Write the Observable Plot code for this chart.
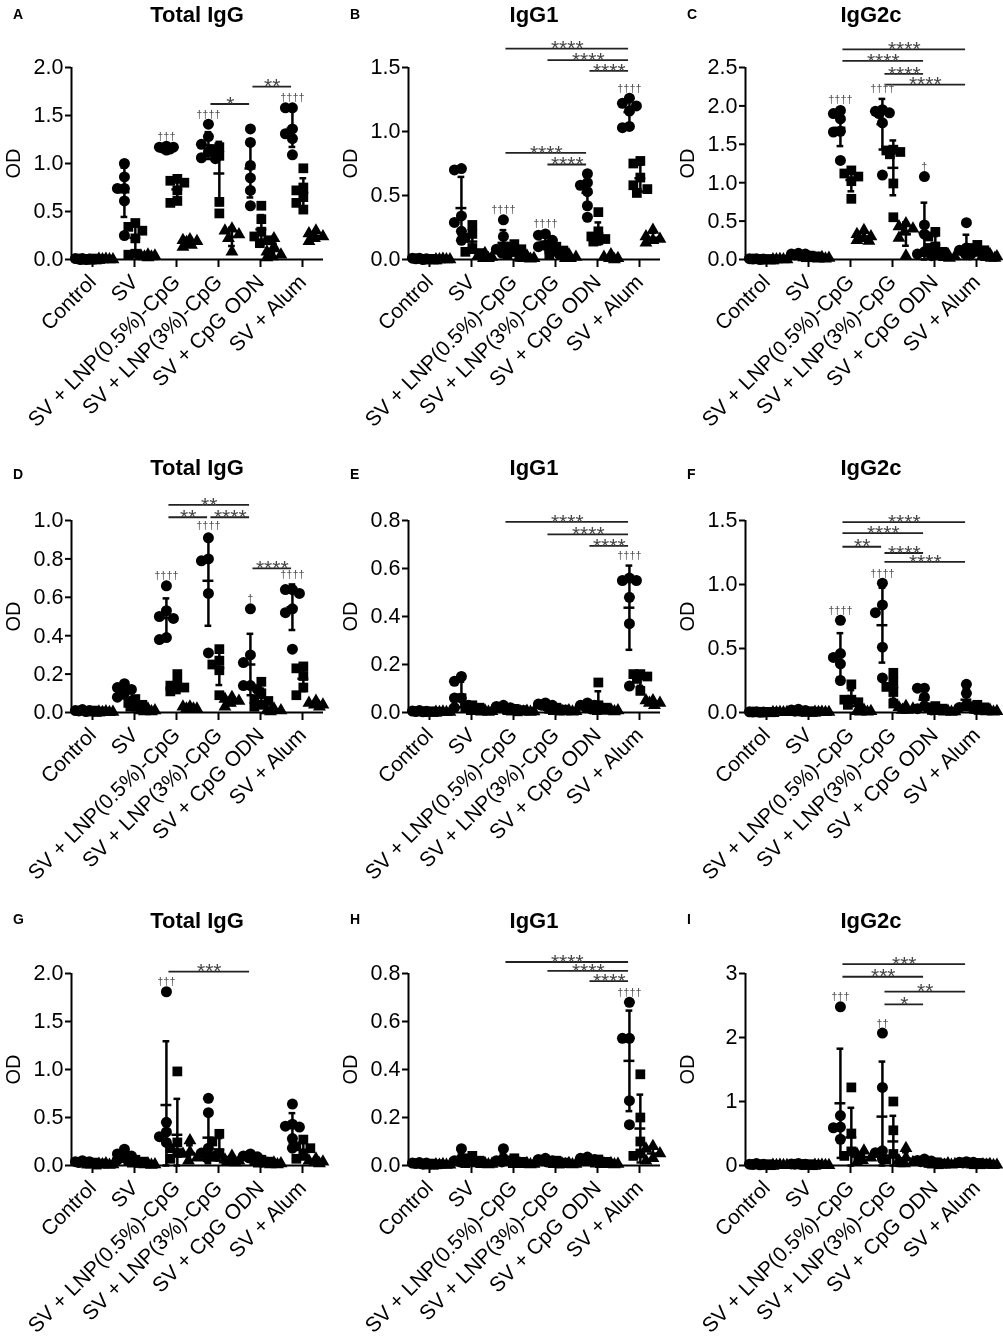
<!DOCTYPE html>
<html><head><meta charset="utf-8">
<script src="https://cdn.jsdelivr.net/npm/d3@7"></script>
<script src="https://cdn.jsdelivr.net/npm/@observablehq/plot@0.6"></script>
<style>
body{margin:0;background:#fff;font-family:"Liberation Sans",Arial,sans-serif;}
#root{position:relative;width:1003px;height:1339px;overflow:hidden;background:#fff;}
.panel{position:absolute;width:336px;height:445px;}
.panel svg{position:absolute;left:0;top:0;overflow:visible;will-change:transform;}
.letter{position:absolute;font-weight:bold;font-size:14px;line-height:1;transform:translate(0,-50%);}
.title{position:absolute;font-weight:bold;font-size:22px;line-height:1;transform:translate(-50%,-50%);white-space:nowrap;}
</style></head><body><div id="root"></div>
<script>
const groups = ["Control","SV","SV + LNP(0.5%)-CpG","SV + LNP(3%)-CpG","SV + CpG ODN","SV + Alum"];
const panelIds = ["A","B","C","D","E","F","G","H","I"];
const panelTitles = ["Total IgG","IgG1","IgG2c","Total IgG","IgG1","IgG2c","Total IgG","IgG1","IgG2c"];
const A_ticks=[0,0.5,1,1.5,2], B_ticks=[0,0.5,1,1.5], C_ticks=[0,0.5,1,1.5,2,2.5];
const D_ticks=[0,0.2,0.4,0.6,0.8,1.0], E_ticks=[0,0.2,0.4,0.6,0.8], F_ticks=[0,0.5,1,1.5];
const G_ticks=[0,0.5,1,1.5,2], H_ticks=[0,0.2,0.4,0.6,0.8], I_ticks=[0,1,2,3];
const tickFormats=[".1f",".1f",".1f",".1f",".1f",".1f",".1f",".1f","d"];

// ---- Panel A: Total IgG ----
const A_circle=[[0.01,0.01,0.005,0.005,0,0],[1.0,0.86,0.74,0.74,0.61,0.25],[1.18,1.17,1.17,1.16,1.15,1.14],[1.41,1.28,1.20,1.12,1.06,1.05],[1.36,1.22,0.98,0.85,0.72,0.56],[1.58,1.58,1.36,1.31,1.26,1.09]];
const A_square=[[0.01,0.005,0.005,0,0,0],[0.38,0.34,0.30,0.22,0.06,0.05],[0.84,0.82,0.80,0.72,0.61,0.59],[1.17,1.15,1.08,0.60,0.48],[0.56,0.42,0.29,0.24,0.20,0.17],[0.95,0.75,0.72,0.65,0.59,0.52]];
const A_triangle=[[0.005,0.005,0,0,0],[0.05,0.04,0.04,0.03,0.03,0.02],[0.21,0.20,0.19,0.18,0.15,0.13],[0.32,0.30,0.26,0.22,0.08],[0.22,0.13,0.08,0.05,0.03,0.02],[0.30,0.27,0.24,0.22,0.19]];
const A_brackets=[[3,4,1.62,"*"],[4,5,1.80,"**"]];
const A_daggers=[[2,"†††"],[3,"††††"],[5,"††††"]];

// ---- Panel B: IgG1 ----
const B_circle=[[0.01,0.01,0.005,0.005,0],[0.71,0.70,0.34,0.29,0.22,0.15],[0.31,0.18,0.10,0.08,0.06,0.05],[0.20,0.19,0.15,0.11,0.10,0.09],[0.67,0.60,0.58,0.53,0.42,0.33],[1.26,1.22,1.20,1.16,1.04,1.03]];
const B_square=[[0.005,0.005,0,0,0],[0.27,0.20,0.17,0.09,0.06,0.05],[0.12,0.10,0.08,0.06,0.04,0.02],[0.10,0.08,0.07,0.06,0.05,0.04],[0.37,0.22,0.18,0.16,0.15,0.14],[0.77,0.75,0.64,0.58,0.55,0.52]];
const B_triangle=[[0.005,0,0,0,0],[0.05,0.03,0.02,0.01,0.01],[0.03,0.02,0.01,0.01,0.005],[0.04,0.03,0.02,0.01,0.01],[0.04,0.02,0.01,0.01,0],[0.23,0.18,0.16,0.15,0.13]];
const B_brackets=[[2,5,1.648,"****"],[3,5,1.557,"****"],[4,5,1.474,"****"],[2,4,0.833,"****"],[3,4,0.742,"****"]];
const B_daggers=[[2,"††††"],[3,"††††"],[5,"††††"]];

// ---- Panel C: IgG2c ----
const C_circle=[[0.01,0.01,0.005,0.005,0],[0.08,0.07,0.07,0.06,0.05],[1.94,1.90,1.83,1.67,1.66,1.29],[1.95,1.93,1.91,1.90,1.78,1.10],[1.08,0.45,0.33,0.10,0.07,0.05],[0.48,0.15,0.12,0.10,0.08,0.06]];
const C_square=[[0.005,0.005,0,0,0],[0.05,0.04,0.04,0.03,0.03],[1.16,1.12,1.08,1.02,0.79],[1.43,1.42,1.40,1.37,0.99,0.55],[0.36,0.30,0.17,0.15,0.10,0.08],[0.19,0.15,0.12,0.10,0.08,0.06]];
const C_triangle=[[0.005,0,0,0,0],[0.03,0.02,0.02,0.01,0.01],[0.38,0.33,0.30,0.28,0.25,0.24],[0.47,0.43,0.40,0.36,0.28,0.05],[0.07,0.05,0.04,0.03,0.02],[0.07,0.05,0.04,0.03,0.02,0.02]];
const C_brackets=[[2,5,2.736,"****"],[2,4,2.586,"****"],[3,4,2.418,"****"],[3,5,2.277,"****"]];
const C_daggers=[[2,"††††"],[3,"††††"],[4,"†"]];

// ---- Panel D: Total IgG ----
const D_circle=[[0.015,0.01,0.01,0.008,0.005],[0.15,0.13,0.12,0.10,0.08,0.06],[0.66,0.53,0.50,0.49,0.39,0.38],[0.91,0.80,0.79,0.62,0.31],[0.54,0.30,0.26,0.14,0.14,0.12],[0.64,0.64,0.62,0.54,0.52,0.33]];
const D_square=[[0.01,0.008,0.005,0.005,0.003],[0.07,0.05,0.04,0.03,0.03,0.02],[0.20,0.15,0.14,0.13,0.12,0.11],[0.33,0.27,0.25,0.22,0.09],[0.16,0.10,0.07,0.06,0.04,0.03],[0.24,0.23,0.19,0.13,0.09]];
const D_triangle=[[0.005,0.004,0.003,0.002,0.001],[0.02,0.01,0.01,0.005,0.005],[0.03,0.03,0.02,0.02,0.02],[0.08,0.07,0.06,0.05,0.03],[0.02,0.01,0.01,0.005],[0.06,0.05,0.04,0.04,0.03]];
const D_brackets=[[2,4,1.081,"**"],[2,3,1.017,"**"],[3,4,1.017,"****"],[4,5,0.751,"****"]];
const D_daggers=[[2,"††††"],[3,"††††"],[4,"†"],[5,"††††"]];

// ---- Panel E: IgG1 ----
const E_circle=[[0.008,0.006,0.005,0.004,0.003],[0.15,0.13,0.06,0.06,0.03,0.02],[0.03,0.025,0.02,0.02,0.015],[0.04,0.035,0.03,0.03,0.025],[0.04,0.03,0.03,0.02,0.015],[0.56,0.55,0.55,0.48,0.37,0.11]];
const E_square=[[0.005,0.004,0.003,0.002,0.002],[0.03,0.02,0.02,0.01,0.01],[0.015,0.01,0.01,0.008,0.005],[0.02,0.015,0.012,0.01,0.008],[0.125,0.03,0.02,0.02,0.01],[0.16,0.16,0.15,0.14,0.09]];
const E_triangle=[[0.003,0.002,0.002,0.001,0.001],[0.008,0.005,0.005,0.003,0.002],[0.006,0.005,0.004,0.003,0.002],[0.008,0.006,0.005,0.004,0.003],[0.012,0.01,0.008,0.006,0.004],[0.05,0.05,0.04,0.04,0.03]];
const E_brackets=[[2,5,0.794,"****"],[3,5,0.742,"****"],[4,5,0.694,"****"]];
const E_daggers=[[5,"††††"]];

// ---- Panel F: IgG2c ----
const F_circle=[[0.006,0.005,0.004,0.003,0.002],[0.025,0.02,0.015,0.01,0.01],[0.72,0.46,0.43,0.38,0.25],[1.01,0.84,0.78,0.51,0.27],[0.19,0.19,0.12,0.05,0.03,0.02],[0.22,0.15,0.06,0.04,0.03]];
const F_square=[[0.004,0.003,0.003,0.002,0.002],[0.01,0.008,0.006,0.005,0.004],[0.22,0.10,0.10,0.08,0.06],[0.31,0.24,0.20,0.16,0.07],[0.05,0.04,0.03,0.02,0.02],[0.06,0.05,0.04,0.03,0.02]];
const F_triangle=[[0.003,0.002,0.002,0.001,0.001],[0.005,0.004,0.003,0.002,0.002],[0.02,0.01,0.01,0.005,0.005],[0.05,0.04,0.03,0.02,0.02],[0.012,0.01,0.008,0.006,0.004],[0.02,0.015,0.01,0.008,0.005]];
const F_brackets=[[2,5,1.487,"****"],[2,4,1.402,"****"],[2,3,1.295,"**"],[3,4,1.246,"****"],[3,5,1.176,"****"]];
const F_daggers=[[2,"††††"],[3,"††††"]];

// ---- Panel G: Total IgG ----
const G_circle=[[0.05,0.04,0.04,0.03,0.03],[0.17,0.12,0.10,0.08,0.06],[1.81,0.45,0.35,0.30,0.24],[0.70,0.55,0.18,0.13,0.10,0.08],[0.12,0.10,0.09,0.08,0.07],[0.64,0.43,0.41,0.40,0.28,0.18]];
const G_square=[[0.03,0.02,0.02,0.02,0.01],[0.06,0.05,0.04,0.03,0.03],[0.98,0.24,0.18,0.13,0.07],[0.33,0.25,0.12,0.09,0.05],[0.06,0.05,0.04,0.03,0.03],[0.27,0.20,0.18,0.10,0.07]];
const G_triangle=[[0.02,0.015,0.01,0.01,0.005],[0.02,0.015,0.01,0.01,0.005],[0.26,0.14,0.12,0.08,0.05],[0.10,0.06,0.05,0.04,0.03],[0.03,0.02,0.02,0.01,0.01],[0.07,0.05,0.04,0.03,0.02]];
const G_brackets=[[2,4,2.02,"***"]];
const G_daggers=[[2,"†††"]];

// ---- Panel H: IgG1 ----
const H_circle=[[0.012,0.01,0.01,0.008,0.006],[0.07,0.03,0.02,0.02,0.015],[0.07,0.03,0.02,0.02,0.015],[0.03,0.025,0.02,0.02,0.015],[0.035,0.03,0.025,0.02,0.02],[0.68,0.53,0.53,0.27,0.17]];
const H_square=[[0.008,0.006,0.005,0.004,0.003],[0.04,0.03,0.02,0.015,0.01],[0.03,0.02,0.015,0.01,0.01],[0.02,0.015,0.012,0.01,0.008],[0.025,0.02,0.015,0.012,0.01],[0.38,0.20,0.10,0.05,0.04]];
const H_triangle=[[0.005,0.004,0.003,0.002,0.002],[0.01,0.008,0.006,0.005,0.004],[0.01,0.008,0.006,0.005,0.004],[0.01,0.008,0.006,0.005,0.004],[0.01,0.008,0.006,0.005,0.004],[0.08,0.07,0.05,0.03,0.02]];
const H_brackets=[[2,5,0.848,"****"],[3,5,0.811,"****"],[4,5,0.768,"****"]];
const H_daggers=[[5,"††††"]];

// ---- Panel I: IgG2c ----
const I_circle=[[0.03,0.02,0.02,0.015,0.01],[0.03,0.025,0.02,0.02,0.015],[2.48,0.78,0.60,0.59,0.41],[2.07,1.22,0.23,0.20,0.10],[0.10,0.08,0.07,0.06,0.05],[0.06,0.05,0.05,0.04,0.04]];
const I_square=[[0.02,0.015,0.01,0.01,0.005],[0.02,0.015,0.01,0.01,0.005],[1.22,0.50,0.22,0.15,0.10],[1.00,0.55,0.18,0.10,0.05],[0.05,0.04,0.03,0.03,0.02],[0.04,0.03,0.03,0.02,0.02]];
const I_triangle=[[0.01,0.01,0.005,0.005,0.003],[0.01,0.01,0.005,0.005,0.003],[0.23,0.18,0.12,0.08,0.05],[0.27,0.12,0.08,0.05,0.03],[0.03,0.02,0.02,0.01,0.01],[0.02,0.015,0.01,0.01,0.005]];
const I_brackets=[[2,5,3.145,"***"],[2,4,2.949,"***"],[3,5,2.716,"**"],[3,4,2.519,"*"]];
const I_daggers=[[2,"†††"],[3,"††"]];

const panelData = {
  A:{ticks:A_ticks,circle:A_circle,square:A_square,triangle:A_triangle,brackets:A_brackets,daggers:A_daggers},
  B:{ticks:B_ticks,circle:B_circle,square:B_square,triangle:B_triangle,brackets:B_brackets,daggers:B_daggers},
  C:{ticks:C_ticks,circle:C_circle,square:C_square,triangle:C_triangle,brackets:C_brackets,daggers:C_daggers},
  D:{ticks:D_ticks,circle:D_circle,square:D_square,triangle:D_triangle,brackets:D_brackets,daggers:D_daggers},
  E:{ticks:E_ticks,circle:E_circle,square:E_square,triangle:E_triangle,brackets:E_brackets,daggers:E_daggers},
  F:{ticks:F_ticks,circle:F_circle,square:F_square,triangle:F_triangle,brackets:F_brackets,daggers:F_daggers},
  G:{ticks:G_ticks,circle:G_circle,square:G_square,triangle:G_triangle,brackets:G_brackets,daggers:G_daggers},
  H:{ticks:H_ticks,circle:H_circle,square:H_square,triangle:H_triangle,brackets:H_brackets,daggers:H_daggers},
  I:{ticks:I_ticks,circle:I_circle,square:I_square,triangle:I_triangle,brackets:I_brackets,daggers:I_daggers}
};

const W=332, H=440, ML=71, MR=9, MT=67, MB=181;
const subOffset={circle:-0.24, square:0.02, triangle:0.32};
const symbolR={circle:5.5, square:5.5, triangle:4.8};
const pxPerX=(W-ML-MR)/6;
const letterDy=[14,21,13];
const root=document.getElementById("root");
const FONT='"Liberation Sans", Arial, sans-serif';

panelIds.forEach((id,k)=>{
  const p=panelData[id];
  const col=k%3,row=Math.floor(k/3);
  const left=col*337, top=row*453;
  const topTick=p.ticks[p.ticks.length-1];
  const pxPerY=(H-MT-MB)/topTick;
  const pts=[], stats=[];
  ["circle","square","triangle"].forEach(s=>{
    p[s].forEach((vals,g)=>{
      const cx=g+subOffset[s];
      const placed=[];
      const order=vals.map((v,i)=>i).sort((a,b)=>vals[b]-vals[a]);
      order.forEach(i=>{
        const v=vals[i], y=v*pxPerY;
        const cands=[0,-7,7,-3.5,3.5,-5,5,-1.5,1.5];
        let best=0,bestD=-1;
        for(const c of cands){
          let d=Infinity;
          for(const q of placed) d=Math.min(d,Math.hypot(c-q.dx,y-q.y));
          if(d>=8){best=c;bestD=d;break;}
          if(d>bestD){bestD=d;best=c;}
        }
        placed.push({dx:best,y});
        pts.push({x:cx+best/pxPerX,v,s});
      });
      const mean=d3.mean(vals), sd=d3.deviation(vals)||0;
      stats.push({s,g,x:cx,mean,lo:Math.max(0,mean-sd),hi:mean+sd,max:d3.max(vals)});
    });
  });
  const br=p.brackets.map(([a,b,level,label])=>({x1:a-0.22+0.04,x2:b-0.22-0.04,level,label}));
  const dg=p.daggers.map(([g,label])=>{
    const st=stats.find(d=>d.s==="circle"&&d.g===g);
    return {x:g+subOffset.circle,y:Math.max(st.max,st.hi),label};
  });

  const chart=Plot.plot({
    width:W,height:H,marginLeft:ML,marginRight:MR,marginTop:MT,marginBottom:MB,
    style:{fontFamily:FONT,fontSize:"21px",color:"black",background:"transparent",overflow:"visible"},
    x:{domain:[-0.5,5.5]},
    y:{domain:[0,topTick]},
    marks:[
      Plot.axisY({ticks:p.ticks,tickFormat:d3.format(tickFormats[k]),tickSize:6,tickPadding:2,fontSize:21.5,label:null,strokeWidth:2}),
      Plot.axisX({ticks:[0,1,2,3,4,5],tickFormat:i=>groups[i],tickRotate:-45,tickSize:8,tickPadding:11,fontSize:21,label:null,strokeWidth:2}),
      Plot.ruleY([0],{x1:-0.5,x2:5.5,strokeWidth:2}),
      Plot.ruleX([-0.5],{y1:0,y2:topTick,strokeWidth:2}),
      Plot.dot(pts.filter(d=>d.s==="circle"),{x:"x",y:"v",symbol:"circle",r:symbolR.circle,fill:"black",stroke:"none"}),
      Plot.dot(pts.filter(d=>d.s==="square"),{x:"x",y:"v",symbol:"square",r:symbolR.square,fill:"black",stroke:"none"}),
      Plot.dot(pts.filter(d=>d.s==="triangle"),{x:"x",y:"v",symbol:"triangle",r:symbolR.triangle,fill:"black",stroke:"none"}),
      Plot.ruleX(stats,{x:"x",y1:"lo",y2:"hi",strokeWidth:2.5}),
      Plot.ruleY(stats,{y:"hi",x1:d=>d.x-0.08,x2:d=>d.x+0.08,strokeWidth:2.5}),
      Plot.ruleY(stats,{y:"lo",x1:d=>d.x-0.08,x2:d=>d.x+0.08,strokeWidth:2.5}),
      Plot.ruleY(stats,{y:"mean",x1:d=>d.x-0.13,x2:d=>d.x+0.13,strokeWidth:2.5}),
      Plot.ruleY(br,{y:"level",x1:"x1",x2:"x2",strokeWidth:1.8,stroke:"#222"}),
      Plot.text(br,{x:d=>(d.x1+d.x2)/2,y:"level",text:"label",fontSize:21,fill:"#444"}),
      Plot.text(dg,{x:"x",y:"y",text:"label",fontSize:11,dy:-10,fill:"#555",ariaLabel:"dagger"}),
      Plot.text(["OD"],{frameAnchor:"left",dx:-58,rotate:-90,fontSize:20,textAnchor:"middle"})
    ]
  });
  chart.querySelectorAll('g[aria-label="dagger"] text').forEach(t=>t.setAttribute("letter-spacing","-2.6"));

  const div=document.createElement("div");
  div.className="panel";
  div.style.left=left+"px"; div.style.top=top+"px";
  div.appendChild(chart);
  const lt=document.createElement("div");
  lt.className="letter"; lt.textContent=id;
  lt.style.left="13px"; lt.style.top=letterDy[row]+"px";
  div.appendChild(lt);
  const tt=document.createElement("div");
  tt.className="title"; tt.textContent=panelTitles[k];
  tt.style.left=(ML+(W-ML-MR)/2)+"px"; tt.style.top="15px";
  div.appendChild(tt);
  root.appendChild(div);
});
</script></body></html>
